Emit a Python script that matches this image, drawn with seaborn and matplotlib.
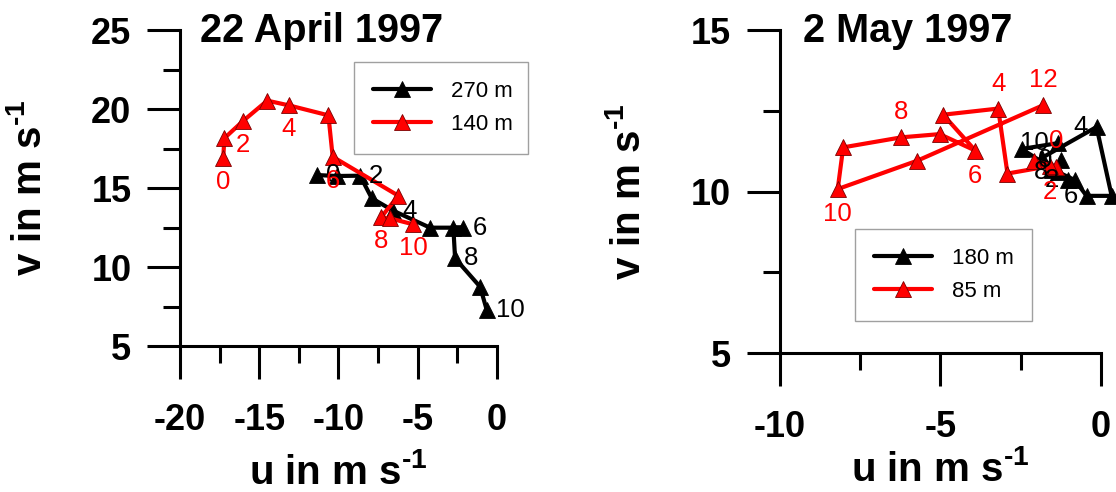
import matplotlib
matplotlib.use("Agg")
import matplotlib.pyplot as plt
import seaborn as sns
import pandas as pd
from matplotlib.ticker import MultipleLocator

# ---------------- data ----------------
# 22 April 1997
apr_u_270 = [-11.33, -10.10, -8.63, -7.89, -6.53, -4.21, -2.11, -2.74, -2.63, -1.05, -0.63]
apr_v_270 = [15.82, 15.76, 15.78, 14.35, 13.56, 12.49, 12.49, 12.49, 10.55, 8.75, 7.28]
apr_u_140 = [-17.27, -17.20, -16.00, -14.49, -13.12, -10.63, -10.36, -6.21, -7.31, -6.74, -5.27]
apr_v_140 = [16.88, 18.15, 19.26, 20.53, 20.23, 19.60, 16.98, 14.51, 13.14, 13.08, 12.70]
apr_hours = [0, 2, 4, 6, 8, 10]

# 2 May 1997
may_u_180 = [-1.23, -1.54, -1.04, -1.85, -0.14, 0.33, -0.45, -0.82, -1.35, -2.47, -1.35]
may_v_180 = [10.98, 10.67, 10.36, 11.04, 12.00, 9.87, 9.87, 10.36, 10.61, 11.32, 11.50]
may_u_85 = [-1.39, -2.09, -1.60, -2.91, -3.20, -4.91, -3.91, -5.02, -6.21, -8.02, -8.19, -5.71, -1.81]
may_v_85 = [10.75, 10.96, 10.79, 10.56, 12.57, 12.38, 11.27, 11.78, 11.68, 11.37, 10.08, 10.96, 12.67]
may_hours_180 = [0, 2, 4, 6, 8, 10]
may_hours_85 = [0, 2, 4, 6, 8, 10, 12]

titles = ["22 April 1997", "2 May 1997"]
legend_apr = ["270 m", "140 m"]
legend_may = ["180 m", "85 m"]
xlabel = "u in m s$^{\\mathbf{\u2010}\\mathbf{1}}$"
ylabel = "v in m s$^{\\mathbf{\u2010}\\mathbf{1}}$"

# ---------------- style ----------------
sns.set_theme(style="ticks")
plt.rcParams["font.family"] = ["Liberation Sans", "DejaVu Sans"]
plt.rcParams["mathtext.fontset"] = "custom"
plt.rcParams["mathtext.rm"] = "Liberation Sans"
plt.rcParams["mathtext.bf"] = "Liberation Sans:bold"
plt.rcParams["axes.unicode_minus"] = False
for k in ["text.color", "axes.labelcolor", "xtick.color", "ytick.color",
          "xtick.labelcolor", "ytick.labelcolor", "axes.edgecolor"]:
    plt.rcParams[k] = "black"

RED = "#ff0000"
BLACK = "#000000"

fig = plt.figure(figsize=(11.16, 4.92), dpi=100)
fig.patch.set_facecolor("white")
ax1 = fig.add_axes([0.1613, 0.2967, 0.2838, 0.6423])
ax2 = fig.add_axes([0.6985, 0.2819, 0.2881, 0.6571])


def style_axes(ax, xlim, ylim, xmaj, xmin, ymaj, ymin):
    ax.set_xlim(*xlim)
    ax.set_ylim(*ylim)
    ax.xaxis.set_major_locator(MultipleLocator(xmaj))
    ax.xaxis.set_minor_locator(MultipleLocator(xmin))
    ax.yaxis.set_major_locator(MultipleLocator(ymaj))
    ax.yaxis.set_minor_locator(MultipleLocator(ymin))
    for s in ["top", "right"]:
        ax.spines[s].set_visible(False)
    for s in ["left", "bottom"]:
        ax.spines[s].set_linewidth(2.2)
        ax.spines[s].set_color("black")
    ax.tick_params(which="major", length=24, width=2.2, color="black",
                   labelsize=26, labelcolor="black")
    ax.tick_params(which="minor", length=12.5, width=2.2, color="black")
    ax.tick_params(axis="x", which="major", pad=17)
    ax.tick_params(axis="y", which="major", pad=11)
    for lab in ax.get_xticklabels() + ax.get_yticklabels():
        lab.set_fontweight("bold")
    ax.set_facecolor("white")
    ax.grid(False)


def draw(ax, u, v, color, label, edge):
    df = pd.DataFrame({"u": u, "v": v})
    sns.lineplot(data=df, x="u", y="v", sort=False, estimator=None, ax=ax,
                 color=color, linewidth=3, marker="^", markersize=11.5,
                 markeredgecolor=edge, markeredgewidth=0.6, markerfacecolor=color,
                 label=label, clip_on=False)


def annotate(ax, u, v, hours, color, dx, dy, ha):
    for h in hours:
        ax.annotate(str(h), (u[h], v[h]), xytext=(dx, dy), textcoords="offset pixels",
                    ha=ha, va="center", fontsize=18.5, color=color, annotation_clip=False,
                    zorder=10)


# --- left panel ---
draw(ax1, apr_u_270, apr_v_270, BLACK, legend_apr[0], BLACK)
draw(ax1, apr_u_140, apr_v_140, RED, legend_apr[1], "#7a0000")
style_axes(ax1, (-20, 0), (5, 25), 5, 2.5, 5, 2.5)
annotate(ax1, apr_u_270, apr_v_270, apr_hours, BLACK, 9, 0, "left")
annotate(ax1, apr_u_140, apr_v_140, apr_hours, RED, 0, -24, "center")

# --- right panel ---
draw(ax2, may_u_180, may_v_180, BLACK, legend_may[0], BLACK)
draw(ax2, may_u_85, may_v_85, RED, legend_may[1], "#7a0000")
style_axes(ax2, (-10, 0), (5, 15), 5, 2.5, 5, 2.5)
annotate(ax2, may_u_180, may_v_180, may_hours_180, BLACK, -9, 0, "right")
red_dy = [26, -26, 25, -25, 25, -25, 25]
for h, dy in zip(may_hours_85, red_dy):
    ax2.annotate(str(h), (may_u_85[h], may_v_85[h]), xytext=(0, dy), textcoords="offset pixels",
                 ha="center", va="center", fontsize=18.5, color=RED, annotation_clip=False,
                 zorder=10)

for ax in [ax1, ax2]:
    ax.set_xlabel(xlabel, fontsize=29, fontweight="bold", color="black")
    ax.set_ylabel(ylabel, fontsize=29, fontweight="bold", color="black")

ax1.text(0.063, 0.962, titles[0], transform=ax1.transAxes, fontsize=28.5,
         fontweight="bold", ha="left", va="baseline", color="black")
ax2.text(0.073, 0.963, titles[1], transform=ax2.transAxes, fontsize=28.5,
         fontweight="bold", ha="left", va="baseline", color="black")

ax1.yaxis.set_label_coords(-0.415, 0.5)
ax2.yaxis.set_label_coords(-0.41, 0.5)
ax1.xaxis.set_label_coords(0.5, -0.34)
ax2.xaxis.set_label_coords(0.5, -0.30)

leg_kw = dict(fontsize=16, numpoints=1, handlelength=2.6, handletextpad=0.9,
              borderpad=0.85, labelspacing=0.55, fancybox=False, framealpha=1,
              edgecolor="#a0a0a0", loc="upper left", mode="expand", borderaxespad=0,
              labelcolor="black")
leg1 = ax1.legend(bbox_to_anchor=(0.549, 0.899, 0.55, 0.0), **leg_kw)
leg2 = ax2.legend(bbox_to_anchor=(0.235, 0.384, 0.55, 0.0), **leg_kw)
for leg in (leg1, leg2):
    leg.get_frame().set_linewidth(1.0)
    leg.set_zorder(5)

fig.savefig("out.png", dpi=100, facecolor="white")
